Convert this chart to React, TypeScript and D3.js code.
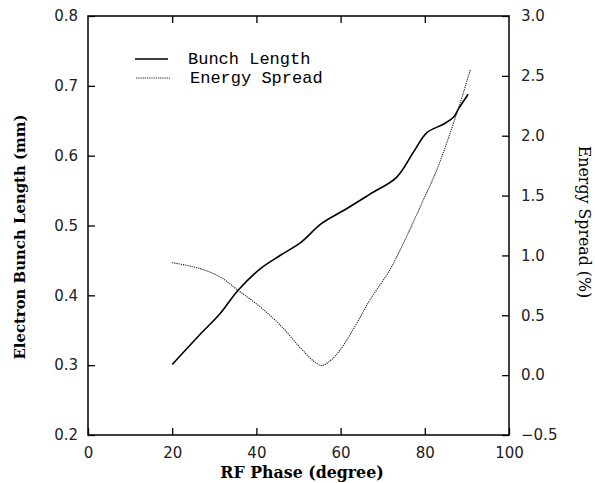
import React, { useEffect, useRef } from "react";
import * as d3 from "d3";

const W = 595;
const H = 483;
const margin = { top: 16, right: 86, bottom: 48, left: 88 };

// RF phase (degree)
const phaseBunch = [20, 26.6, 31.4, 35.6, 40.9, 45.6, 50.4, 55.5, 61.4, 67, 73.3, 77.3, 80.5, 84.4, 86.8, 88, 90.3];
// electron bunch length (mm)
const bunchLength = [0.301, 0.344, 0.374, 0.407, 0.438, 0.457, 0.475, 0.503, 0.524, 0.545, 0.569, 0.605, 0.633, 0.645, 0.655, 0.667, 0.688];

const phaseSpread = [20, 26.6, 31.4, 35.6, 40.9, 45.6, 50.4, 53.5, 55.5, 57.5, 59.9, 64.6, 67, 71.7, 75.7, 79.6, 82.8, 88, 90.8];
// energy spread (%)
const energySpread = [0.94, 0.89, 0.82, 0.71, 0.57, 0.42, 0.23, 0.12, 0.08, 0.12, 0.21, 0.48, 0.63, 0.88, 1.16, 1.46, 1.71, 2.23, 2.55];

const xTicks = [0, 20, 40, 60, 80, 100];
const leftTicks = [0.2, 0.3, 0.4, 0.5, 0.6, 0.7, 0.8];
const rightTicks = [-0.5, 0.0, 0.5, 1.0, 1.5, 2.0, 2.5, 3.0];

const tickFont = "'DejaVu Sans', sans-serif";
const titleFont = "'DejaVu Serif', serif";

const App = () => {
  const ref = useRef<SVGSVGElement>(null);

  useEffect(() => {
    const svg = d3.select(ref.current);
    svg.selectAll("*").remove();

    const iw = W - margin.left - margin.right;
    const ih = H - margin.top - margin.bottom;

    const x = d3.scaleLinear().domain([0, 100]).range([0, iw]);
    const yL = d3.scaleLinear().domain([0.2, 0.8]).range([ih, 0]);
    const yR = d3.scaleLinear().domain([-0.5, 3.0]).range([ih, 0]);

    const g = svg.append("g").attr("transform", `translate(${margin.left},${margin.top})`);

    // axes, ticks point inward
    const fmt = d3.format(".1f");
    const styleAxis = (sel: any) => {
      sel.select(".domain").remove();
      sel.selectAll(".tick line").attr("stroke", "#000").attr("stroke-width", 1.3);
      sel.selectAll(".tick text").attr("font-family", tickFont).attr("font-size", 15).attr("fill", "#222");
    };

    g.append("g").attr("transform", `translate(0,${ih})`)
      .call(d3.axisBottom(x).tickValues(xTicks).tickSizeInner(-7).tickSizeOuter(0).tickPadding(12).tickFormat(d3.format("d")))
      .call(styleAxis);
    g.append("g")
      .call(d3.axisTop(x).tickValues(xTicks.slice(1, -1)).tickSizeInner(-7).tickSizeOuter(0).tickFormat(() => ""))
      .call(styleAxis);
    g.append("g")
      .call(d3.axisLeft(yL).tickValues(leftTicks).tickSizeInner(-7).tickSizeOuter(0).tickPadding(10).tickFormat(fmt))
      .call(styleAxis);
    g.append("g").attr("transform", `translate(${iw},0)`)
      .call(d3.axisRight(yR).tickValues(rightTicks).tickSizeInner(-7).tickSizeOuter(0).tickPadding(12)
        .tickFormat((d: any) => (d < 0 ? "\u2212" : "") + fmt(Math.abs(d))))
      .call(styleAxis);

    g.append("rect").attr("width", iw).attr("height", ih)
      .attr("fill", "none").attr("stroke", "#000").attr("stroke-width", 1.5);

    const lineB = d3.line<number>().x((d, i) => x(phaseBunch[i])).y(d => yL(d)).curve(d3.curveCatmullRom.alpha(0.5));
    const lineE = d3.line<number>().x((d, i) => x(phaseSpread[i])).y(d => yR(d)).curve(d3.curveCatmullRom.alpha(0.5));

    g.append("path").attr("d", lineB(bunchLength)).attr("fill", "none")
      .attr("stroke", "#000").attr("stroke-width", 1.6);
    g.append("path").attr("d", lineE(energySpread)).attr("fill", "none")
      .attr("stroke", "#222").attr("stroke-width", 1.1).attr("stroke-dasharray", "1.2,1");

    // legend
    const leg = svg.append("g");
    leg.append("line").attr("x1", 135).attr("x2", 168).attr("y1", 59).attr("y2", 59)
      .attr("stroke", "#000").attr("stroke-width", 1.6);
    leg.append("line").attr("x1", 136).attr("x2", 170).attr("y1", 78).attr("y2", 78)
      .attr("stroke", "#222").attr("stroke-width", 1.1).attr("stroke-dasharray", "1.2,1");
    leg.append("text").attr("x", 188).attr("y", 64).text("Bunch Length")
      .attr("font-family", "'Liberation Mono', monospace").attr("font-size", 17);
    leg.append("text").attr("x", 190).attr("y", 83).text("Energy Spread")
      .attr("font-family", "'Liberation Mono', monospace").attr("font-size", 17);

    // titles
    svg.append("text").attr("x", 302).attr("y", 478).attr("text-anchor", "middle")
      .attr("font-family", titleFont).attr("font-weight", "bold").attr("font-size", 15.8)
      .text("RF Phase (degree)");
    svg.append("text").attr("transform", "translate(25,237) rotate(-90)").attr("text-anchor", "middle")
      .attr("font-family", titleFont).attr("font-weight", "bold").attr("font-size", 14.9)
      .text("Electron Bunch Length (mm)");
    svg.append("text").attr("transform", "translate(579,222) rotate(90)").attr("text-anchor", "middle")
      .attr("font-family", titleFont).attr("font-size", 15.8)
      .text("Energy Spread (%)");
  }, []);

  return (
    <svg ref={ref} width={W} height={H}
      style={{ position: "absolute", left: 0, top: 0, background: "#fff" }} />
  );
};

export default App;
